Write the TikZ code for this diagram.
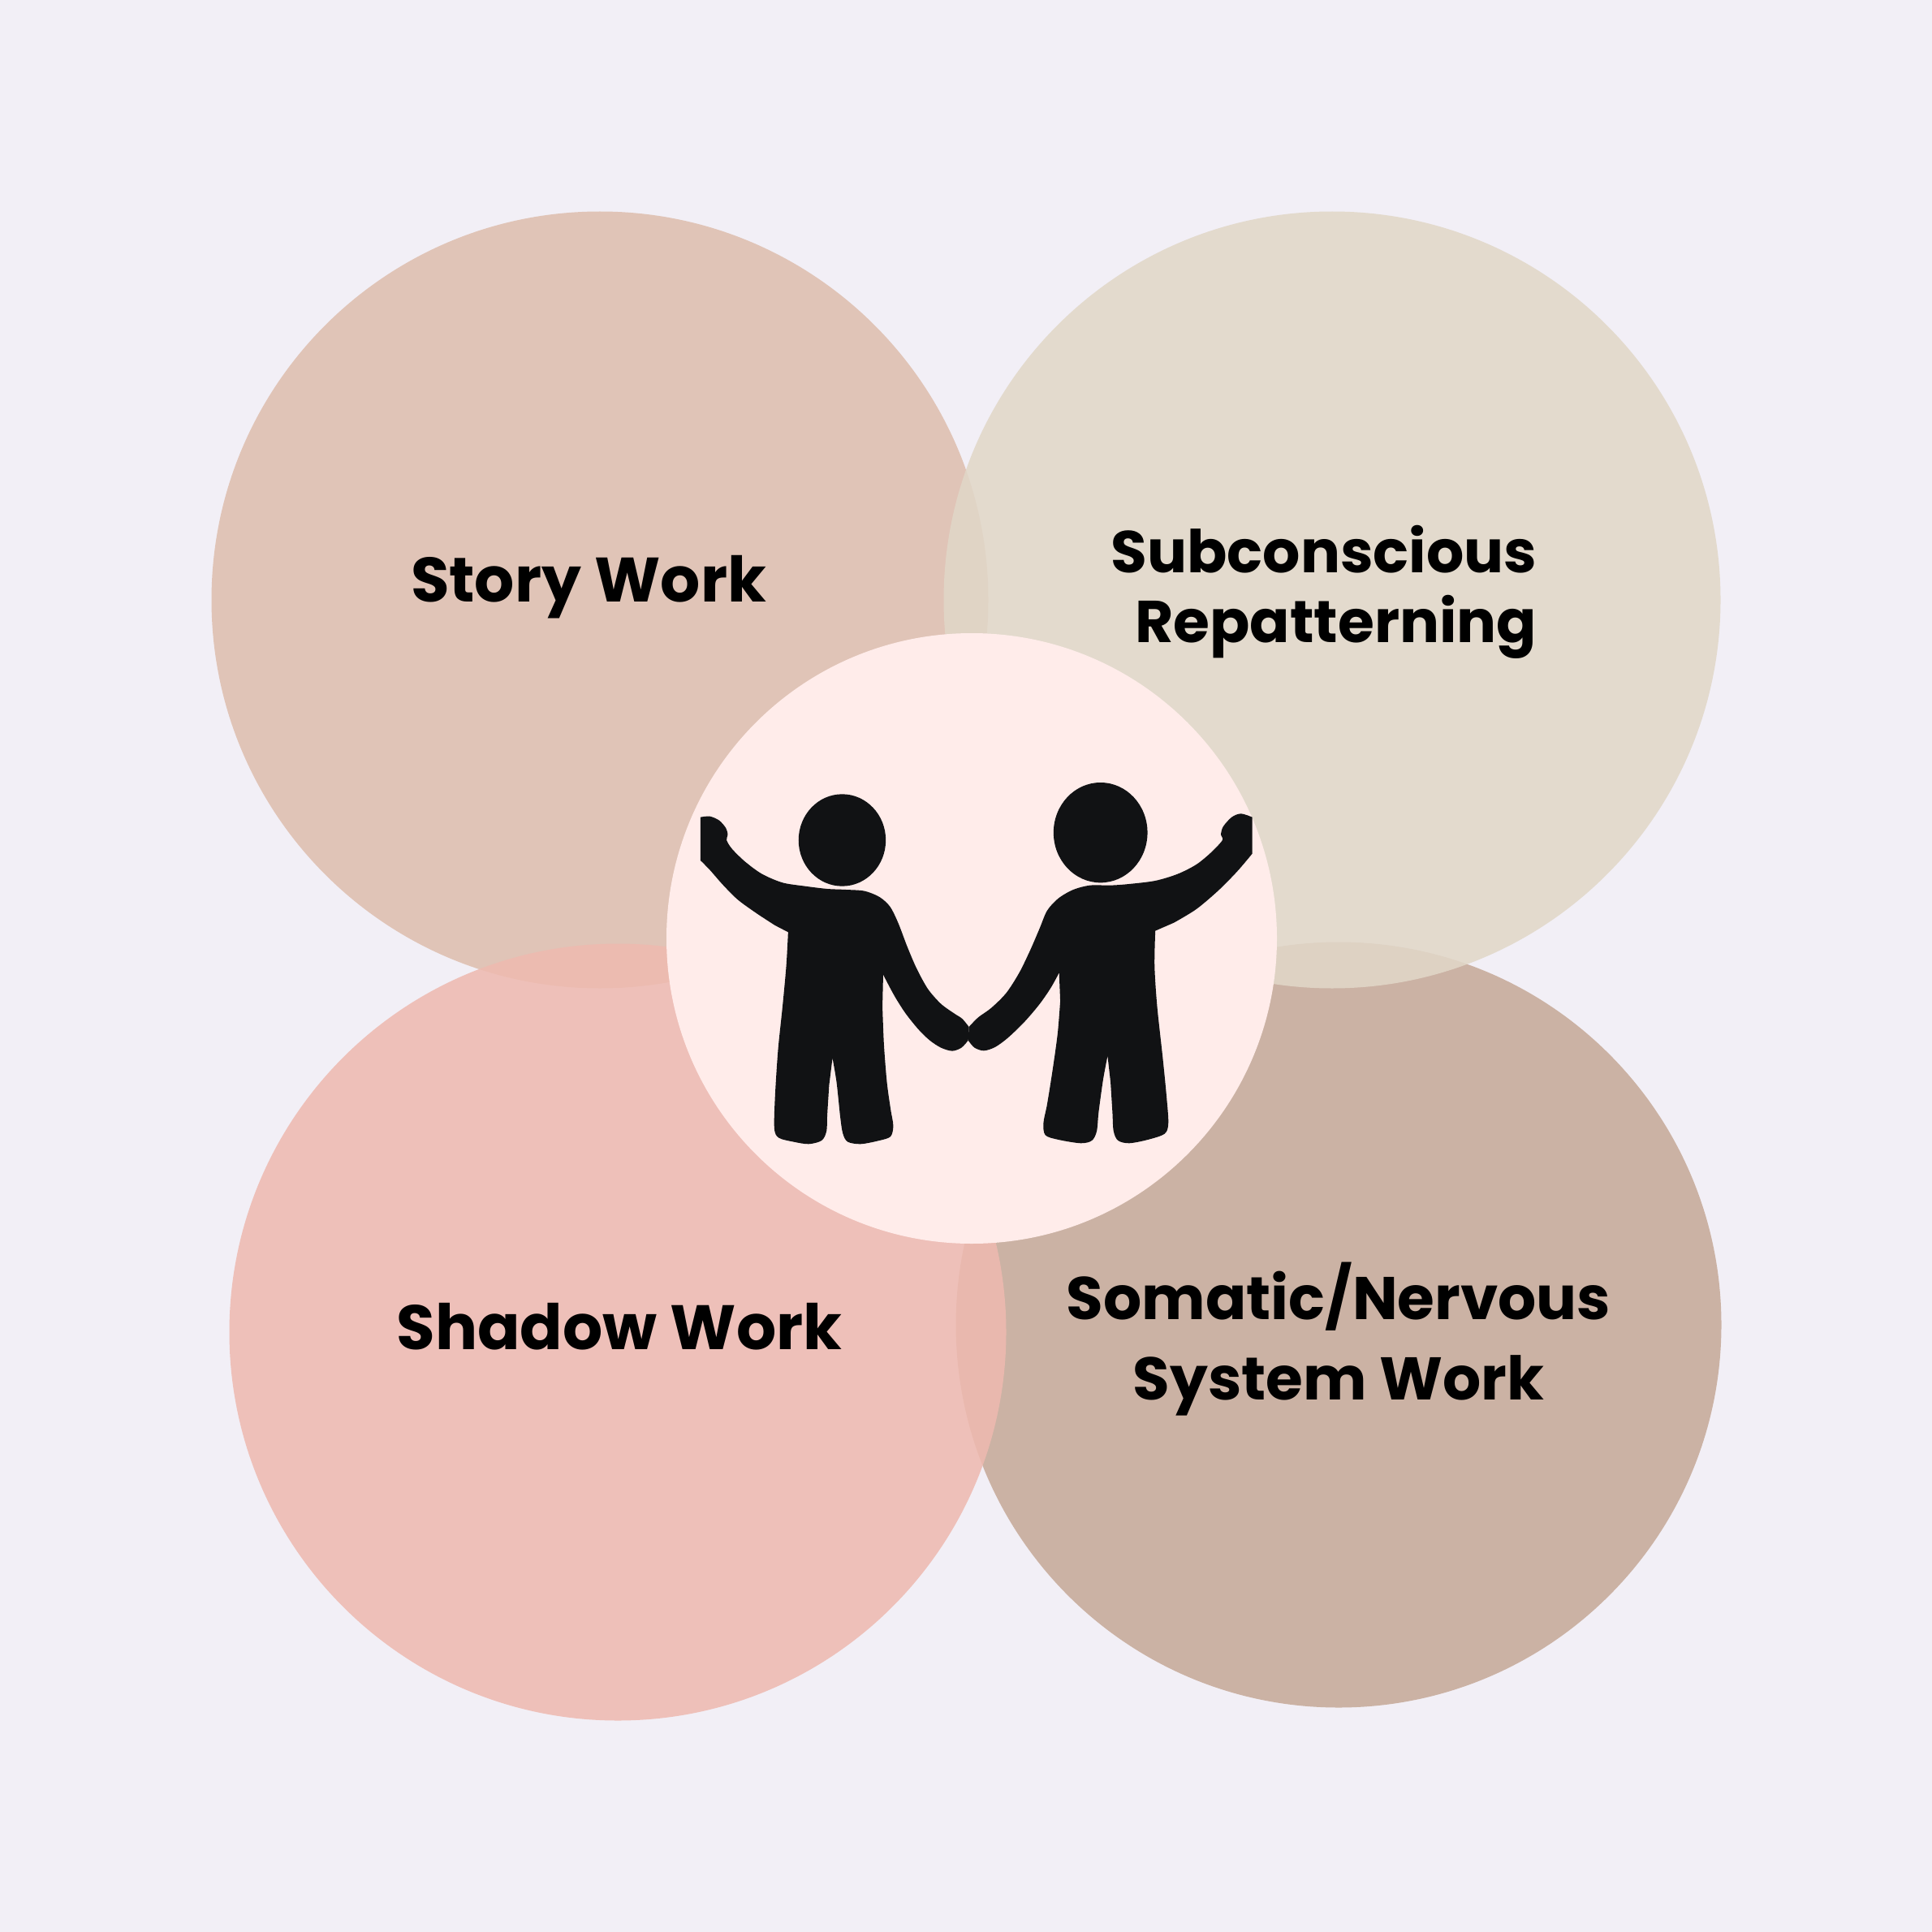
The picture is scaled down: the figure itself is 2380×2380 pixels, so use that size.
\documentclass[tikz,border=0pt]{standalone}
\usepackage{fontspec}
\setmainfont{Poppins}
\usepackage{tikz}
\definecolor{page}{HTML}{F2EFF6}
\definecolor{story}{HTML}{DEBEAE}
\definecolor{subcon}{HTML}{E1D7C8}
\definecolor{shadow}{HTML}{EEBAB0}
\definecolor{somatic}{HTML}{C6A998}
\definecolor{core}{HTML}{FFECEA}
\definecolor{ink}{HTML}{111214}

\begin{document}
\begin{tikzpicture}[x=0.1mm, y=-0.1mm,
  petal/.style={circle, inner sep=0pt, fill opacity=0.87},
  label/.style={text=black, align=center, anchor=base},
  figure/.style={fill=ink}]
\fill[page] (0,0) rectangle (2380,2380);
\useasboundingbox (0,0) rectangle (2380,2380);
\node[petal, fill=story, minimum size=95.7mm] (storyc) at (739,739) {};
\node[petal, fill=somatic, minimum size=94.3mm] (somaticc) at (1649,1632) {};
\node[petal, fill=subcon, minimum size=95.7mm] (subconc) at (1641,739) {};
\node[petal, fill=shadow, minimum size=95.7mm] (shadowc) at (761,1641) {};
\node[circle, inner sep=0pt, fill=core, minimum size=75.2mm] (corec) at (1197,1156) {};
\node[label, font=\fontsize{22}{26}\selectfont\bfseries] (storyl) at (725,741) {Story Work};
\node[label, font=\fontsize{22}{28}\selectfont\bfseries] (shadowl) at (763,1662) {Shadow Work};
\node[label, font=\fontsize{20.7}{24.4}\selectfont\bfseries, align=right] (subconl) at (1631,791) {Subconscious\\Repatterning};
\node[label, font=\fontsize{21.1}{27.9}\selectfont\bfseries] (somaticl) at (1649,1724) {Somatic/Nervous\\System Work};
% left figure, traced in crop pixels
\begin{scope}[shift={(840,940)}, xscale=0.4592, yscale=0.3333]
\fill[figure] (430,285) ellipse (117 and 170);
\fill[figure] (1123,257) ellipse (126 and 185);
\fill[figure] plot[smooth, tension=0.5] coordinates {(50,200) (75,197) (100,212) (118,240) (123,265) (120,285) (135,318) (170,365) (215,410) (270,442) (330,455) (390,465) (440,468) (490,473) (530,495) (558,530) (580,590) (605,680) (630,760) (660,835) (695,890) (730,925) (752,945) (770,975)}
  -- plot[smooth, tension=0.5] coordinates {(768,1025) (750,1052) (725,1064) (695,1052) (665,1025) (635,985) (600,925) (570,860) (540,782)}
  -- plot[smooth, tension=0.5] coordinates {(538,900) (542,1040) (550,1180) (560,1280) (567,1340) (560,1380) (530,1395) (480,1408) (445,1400) (432,1370) (425,1310) (415,1180) (404,1090)}
  -- plot[smooth, tension=0.5] coordinates {(395,1190) (390,1300) (388,1360) (375,1395) (340,1408) (300,1400) (260,1385) (248,1350) (250,1230) (258,1060) (270,900) (280,750) (285,625)}
  -- plot[smooth, tension=0.5] coordinates {(250,600) (200,555) (150,505) (110,450) (75,395) (50,360)} -- cycle;
% right figure
\fill[figure] plot[smooth, tension=0.5] coordinates {(1530,200) (1500,187) (1475,200) (1452,235) (1446,265) (1450,285) (1420,330) (1380,375) (1330,410) (1270,435) (1200,447) (1150,452) (1095,452) (1050,468) (1010,500) (980,545) (960,610) (935,690) (905,775) (870,850) (830,905) (795,940) (770,975)}
  -- plot[smooth, tension=0.5] coordinates {(768,1025) (785,1052) (810,1063) (840,1050) (875,1015) (920,955) (960,890) (990,830) (1012,775)}
  -- plot[smooth, tension=0.5] coordinates {(1015,880) (1008,1000) (995,1130) (980,1260) (970,1330) (975,1375) (1010,1392) (1070,1405) (1100,1395) (1113,1360) (1118,1290) (1130,1170) (1142,1082)}
  -- plot[smooth, tension=0.5] coordinates {(1150,1180) (1155,1290) (1158,1360) (1170,1395) (1200,1405) (1250,1392) (1295,1370) (1305,1330) (1300,1230) (1290,1090) (1275,900) (1268,750) (1270,620)}
  -- plot[smooth, tension=0.5] coordinates {(1320,590) (1380,540) (1440,470) (1490,400) (1530,335)} -- cycle;
\end{scope}
\end{tikzpicture}
\end{document}
